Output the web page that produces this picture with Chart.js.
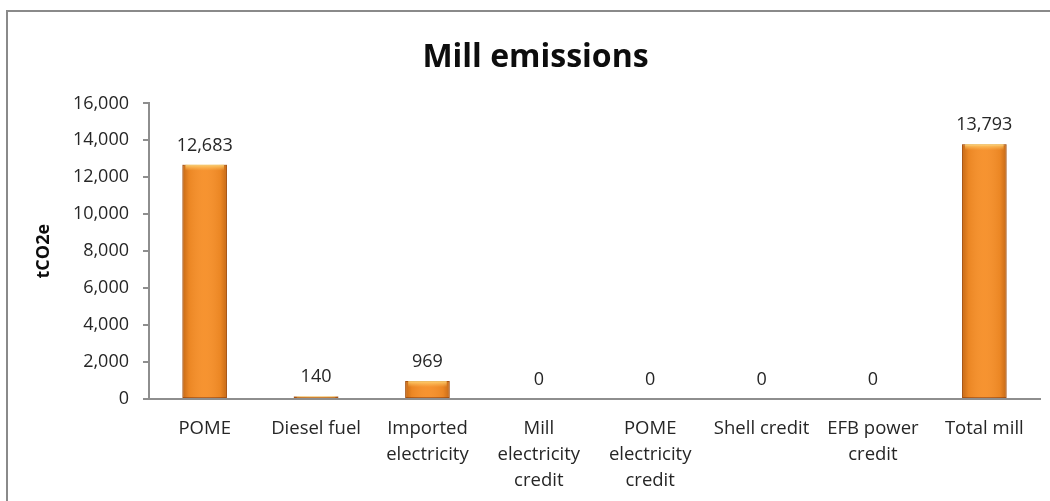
<!DOCTYPE html>
<html>
<head>
<meta charset="utf-8">
<title>Mill emissions</title>
<script src="https://cdn.jsdelivr.net/npm/chart.js@4.4.1/dist/chart.umd.min.js"></script>
<style>
  html, body { margin: 0; padding: 0; background: #fff; overflow: hidden; }
  #frame {
    position: absolute; left: 6px; top: 10px;
    width: 1100px; height: 600px;
    border: 2px solid #8a8a8a;
  }
  #wrap { position: absolute; left: 0; top: 0; width: 1050px; height: 501px; }
</style>
</head>
<body>
<div id="frame"></div>
<div id="wrap"><canvas id="millChart"></canvas></div>
<script>
// Mill emissions (tCO2e)

var categories = [
	'POME',
	'Diesel fuel',
	['Imported', 'electricity'],
	['Mill', 'electricity', 'credit'],
	['POME', 'electricity', 'credit'],
	'Shell credit',
	['EFB power', 'credit'],
	'Total mill'
];

var emissions = [12683, 140, 969, 0, 0, 0, 0, 13793];

var yTicks = [0, 2000, 4000, 6000, 8000, 10000, 12000, 14000, 16000];

var fontFamily = "'Open Sans', 'DejaVu Sans', sans-serif";

function fmt(v) {
	return Number(v).toLocaleString('en-US');
}

// value labels above the bars + a bit of shading so the bars look like the excel ones
var barDecor = {
	id: 'barDecor',
	afterDatasetsDraw: function (chart) {
		var ctx = chart.ctx;
		var meta = chart.getDatasetMeta(0);
		meta.data.forEach(function (bar, i) {
			var p = bar.getProps(['x', 'y', 'base', 'width'], true);
			var left = p.x - p.width / 2;
			var right = p.x + p.width / 2;
			var h = p.base - p.y;
			if (h > 1) {
				ctx.save();
				var g = ctx.createLinearGradient(left, 0, right, 0);
				g.addColorStop(0, 'rgba(140,60,0,0.45)');
				g.addColorStop(0.15, 'rgba(140,60,0,0.10)');
				g.addColorStop(0.5, 'rgba(255,255,255,0.04)');
				g.addColorStop(0.85, 'rgba(140,60,0,0.10)');
				g.addColorStop(1, 'rgba(140,60,0,0.45)');
				ctx.fillStyle = g;
				ctx.fillRect(left, p.y, p.width, h);
				var bh = Math.min(6, h);
				var g2 = ctx.createLinearGradient(0, p.y, 0, p.y + bh);
				g2.addColorStop(0, 'rgba(255,215,120,0.9)');
				g2.addColorStop(1, 'rgba(255,200,100,0)');
				ctx.fillStyle = g2;
				ctx.fillRect(left + 3, p.y, p.width - 6, bh);
				ctx.restore();
			}
			ctx.save();
			ctx.font = '18px ' + fontFamily;
			ctx.fillStyle = '#262626';
			ctx.textAlign = 'center';
			ctx.textBaseline = 'alphabetic';
			ctx.fillText(fmt(emissions[i]), p.x, p.y - 14);
			ctx.restore();
		});
	}
};

var ctx = document.getElementById('millChart');

new Chart(ctx, {
	type: 'bar',
	data: {
		labels: categories,
		datasets: [{
			data: emissions,
			backgroundColor: '#f68f28',
			borderColor: '#b95f17',
			borderWidth: 1,
			borderSkipped: false,
			categoryPercentage: 1,
			barPercentage: 0.4
		}]
	},
	options: {
		responsive: true,
		maintainAspectRatio: false,
		animation: false,
		layout: {
			padding: { left: 31, right: 10, top: 0, bottom: 0 }
		},
		plugins: {
			legend: { display: false },
			tooltip: { enabled: false },
			title: {
				display: true,
				text: 'Mill emissions',
				color: '#0d0d0d',
				font: { family: fontFamily, size: 32, weight: 'bold', lineHeight: 1.2 },
				padding: { top: 39, bottom: 26 }
			}
		},
		scales: {
			x: {
				grid: { display: true, drawOnChartArea: false, drawTicks: false },
				border: { display: true, color: '#8e8e8e', width: 2 },
				ticks: {
					color: '#262626',
					padding: 17,
					maxRotation: 0,
					autoSkip: false,
					font: { family: fontFamily, size: 18.5, lineHeight: 1.4 }
				},
				afterFit: function (scale) { scale.height = 102; }
			},
			y: {
				min: 0,
				max: 16000,
				afterBuildTicks: function (scale) {
					scale.ticks = yTicks.map(function (v) { return { value: v }; });
				},
				grid: { display: true, drawOnChartArea: false, drawTicks: true, tickLength: 6, color: '#8e8e8e', lineWidth: 2 },
				border: { display: true, color: '#8e8e8e', width: 2 },
				ticks: {
					color: '#262626',
					padding: 14,
					font: { family: fontFamily, size: 18 },
					callback: function (v) { return fmt(v); }
				},
				title: {
					display: true,
					text: 'tCO2e',
					color: '#0d0d0d',
					padding: { top: 2, bottom: 0 },
					font: { family: fontFamily, size: 18, weight: 'bold' }
				},
				afterFit: function (scale) { scale.width = 118; }
			}
		}
	},
	plugins: [barDecor]
});
</script>
</body>
</html>
